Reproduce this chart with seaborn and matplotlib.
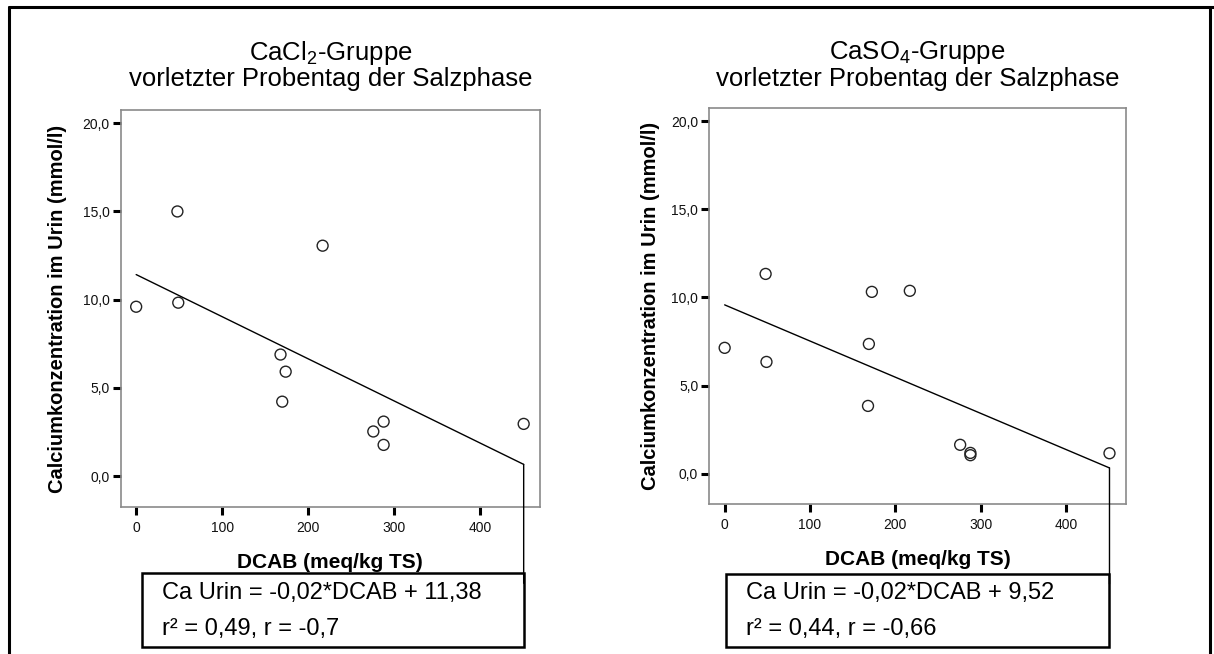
import numpy as np
import matplotlib
matplotlib.use("Agg")
import matplotlib.pyplot as plt
import seaborn as sns
from matplotlib.patches import Rectangle, ConnectionPatch
from matplotlib.lines import Line2D
from matplotlib.ticker import FuncFormatter
from matplotlib.transforms import blended_transform_factory

# values
dcab_cacl2 = [0, 48, 49, 217, 168, 174, 170, 288, 276, 288, 451]
ca_cacl2 = [9.6, 15.0, 9.83, 13.06, 6.89, 5.92, 4.22, 3.09, 2.53, 1.77, 2.96]

dcab_caso4 = [0, 48, 49, 172.5, 217, 169, 168, 276, 288, 288, 451]
ca_caso4 = [7.14, 11.34, 6.34, 10.32, 10.38, 7.36, 3.84, 1.63, 1.17, 1.04, 1.15]

titles = [r"CaCl$_2$-Gruppe", r"CaSO$_4$-Gruppe"]
subtitle = "vorletzter Probentag der Salzphase"
eq_lines = [
    ["Ca Urin = -0,02*DCAB + 11,38", "r² = 0,49, r = -0,7"],
    ["Ca Urin = -0,02*DCAB + 9,52", "r² = 0,44, r = -0,66"],
]
xlabel = "DCAB (meq/kg TS)"
ylabel = "Calciumkonzentration im Urin (mmol/l)"
xticks = [0, 100, 200, 300, 400]
yticks = [0, 5, 10, 15, 20]

sns.set_theme(style="white")
plt.rcParams["font.family"] = ["Liberation Sans", "DejaVu Sans"]
plt.rcParams["mathtext.fontset"] = "custom"
plt.rcParams["mathtext.rm"] = "Liberation Sans"
plt.rcParams["mathtext.it"] = "Liberation Sans:italic"
plt.rcParams["mathtext.bf"] = "Liberation Sans:bold"
plt.rcParams["text.color"] = "black"
plt.rcParams["axes.labelcolor"] = "black"

W, H = 1214, 654
fig = plt.figure(figsize=(W / 100, H / 100), dpi=100)

# axes rectangles in pixels: left, top, right, bottom
boxes_px = [(120.7, 110, 540, 507), (709.3, 108.3, 1125.7, 504.3)]
eqbox_px = [(141.7, 573.3, 646.7), (726, 574, 647)]
ylab_x = [-0.128, -0.118]

data = [(dcab_cacl2, ca_cacl2), (dcab_caso4, ca_caso4)]

for i, (xs, ys) in enumerate(data):
    l, t, r, b = boxes_px[i]
    ax = fig.add_axes([l / W, 1 - b / H, (r - l) / W, (b - t) / H])

    sns.scatterplot(x=xs, y=ys, ax=ax, marker="o", s=62,
                    facecolor="none", edgecolor="#222222", linewidth=1.0)
    sns.regplot(x=xs, y=ys, ax=ax, scatter=False, ci=None, truncate=True,
                color="black", line_kws={"lw": 1.0})

    ax.set_xlim(-18, 470)
    ax.set_ylim(-1.75, 20.75)
    ax.set_xticks(xticks)
    ax.set_yticks(yticks)
    ax.yaxis.set_major_formatter(FuncFormatter(lambda v, p: f"{v:.1f}".replace(".", ",")))
    ax.tick_params(axis="both", which="major", direction="out", length=6, width=2.2,
                   color="black", labelsize=10, labelcolor="#111111")
    ax.tick_params(axis="x", pad=4)
    ax.tick_params(axis="y", pad=2)
    ax.tick_params(left=True, bottom=True, right=False, top=False)
    for sp in ax.spines.values():
        sp.set_color("#8a8a8a")
        sp.set_linewidth(1.2)

    ax.set_xlabel(xlabel, fontsize=15, fontweight="bold")
    ax.set_ylabel(ylabel, fontsize=14.5, fontweight="bold")
    ax.xaxis.set_label_coords(0.5, -0.116)
    ax.yaxis.set_label_coords(ylab_x[i], 0.5)

    # titles
    cx = (l + r) / 2 / W
    fig.text(cx, 1 - 53 / H, titles[i], ha="center", va="center", fontsize=18.5)
    fig.text(cx, 1 - 79 / H, subtitle, ha="center", va="center", fontsize=18.5)

    # regression end point and callout box
    coef = np.polyfit(xs, ys, 1)
    xe = max(xs)
    ye = np.polyval(coef, xe)
    fig.canvas.draw()
    xe_fig = fig.transFigure.inverted().transform(ax.transData.transform((xe, 0)))[0]

    bl, btop, bbot = eqbox_px[i]
    fig.add_artist(Rectangle((bl / W, 1 - bbot / H), xe_fig - bl / W, (bbot - btop) / H,
                             transform=fig.transFigure, fill=False,
                             edgecolor="black", linewidth=1.8))
    trans_b = blended_transform_factory(ax.transData, fig.transFigure)
    con = ConnectionPatch(xyA=(xe, ye), coordsA=ax.transData,
                          xyB=(xe, 1 - (btop + 10) / H), coordsB=trans_b,
                          color="black", linewidth=1.0)
    fig.add_artist(con)

    tx = (bl + 20) / W
    fig.text(tx, 1 - 598.5 / H, eq_lines[i][0], ha="left", va="baseline", fontsize=17)
    fig.text(tx, 1 - 635 / H, eq_lines[i][1], ha="left", va="baseline", fontsize=17)

# outer frame of the figure
fig.add_artist(Line2D([9 / W, 1], [1 - 7 / H, 1 - 7 / H], transform=fig.transFigure,
                      color="black", linewidth=2.2))
fig.add_artist(Line2D([9 / W, 9 / W], [0, 1 - 7 / H], transform=fig.transFigure,
                      color="black", linewidth=2.2))
fig.add_artist(Line2D([1210 / W, 1210 / W], [0, 1 - 7 / H], transform=fig.transFigure,
                      color="black", linewidth=2.2))

fig.savefig("out.png", dpi=100, facecolor="white")
